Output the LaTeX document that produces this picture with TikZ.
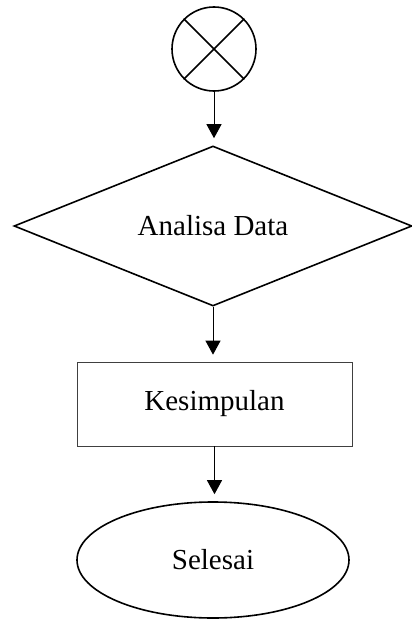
\documentclass[tikz,border=0pt]{standalone}
\usepackage{fontspec}
\setmainfont{Liberation Serif}
\usetikzlibrary{shapes.geometric,arrows.meta}
\begin{document}
\begin{tikzpicture}[x=1pt,y=1pt,
  every node/.style={font=\fontsize{29}{34}\selectfont, inner sep=0pt},
  thickshape/.style={draw=black, line width=1.6pt},
  flow/.style={draw=black, line width=1pt, -{Triangle[length=14pt,width=15pt]}, shorten >=7pt}]
\useasboundingbox (0,0) rectangle (412,-621);
\node[thickshape, circle, minimum size=84pt] (s) at (214,-49) {};
\draw[line width=1.6pt] (s.45) -- (s.225);
\draw[line width=1.6pt] (s.135) -- (s.315);
\node[thickshape, diamond, aspect=2.5, minimum width=398pt, minimum height=160pt] (d) at (213,-226) {Analisa Data};
\node[draw=black!75, line width=0.7pt, rectangle, minimum width=275pt, minimum height=84pt] (k) at (214.5,-404) {Kesimpulan};
\node[thickshape, ellipse, minimum width=272pt, minimum height=116pt] (e) at (213,-560) {Selesai};
\draw[flow] (s.south) -- (s.south |- d.north);
\draw[flow] (d.south) -- (d.south |- k.north);
\draw[flow] (k.south) -- (k.south |- e.north);
\end{tikzpicture}
\end{document}
